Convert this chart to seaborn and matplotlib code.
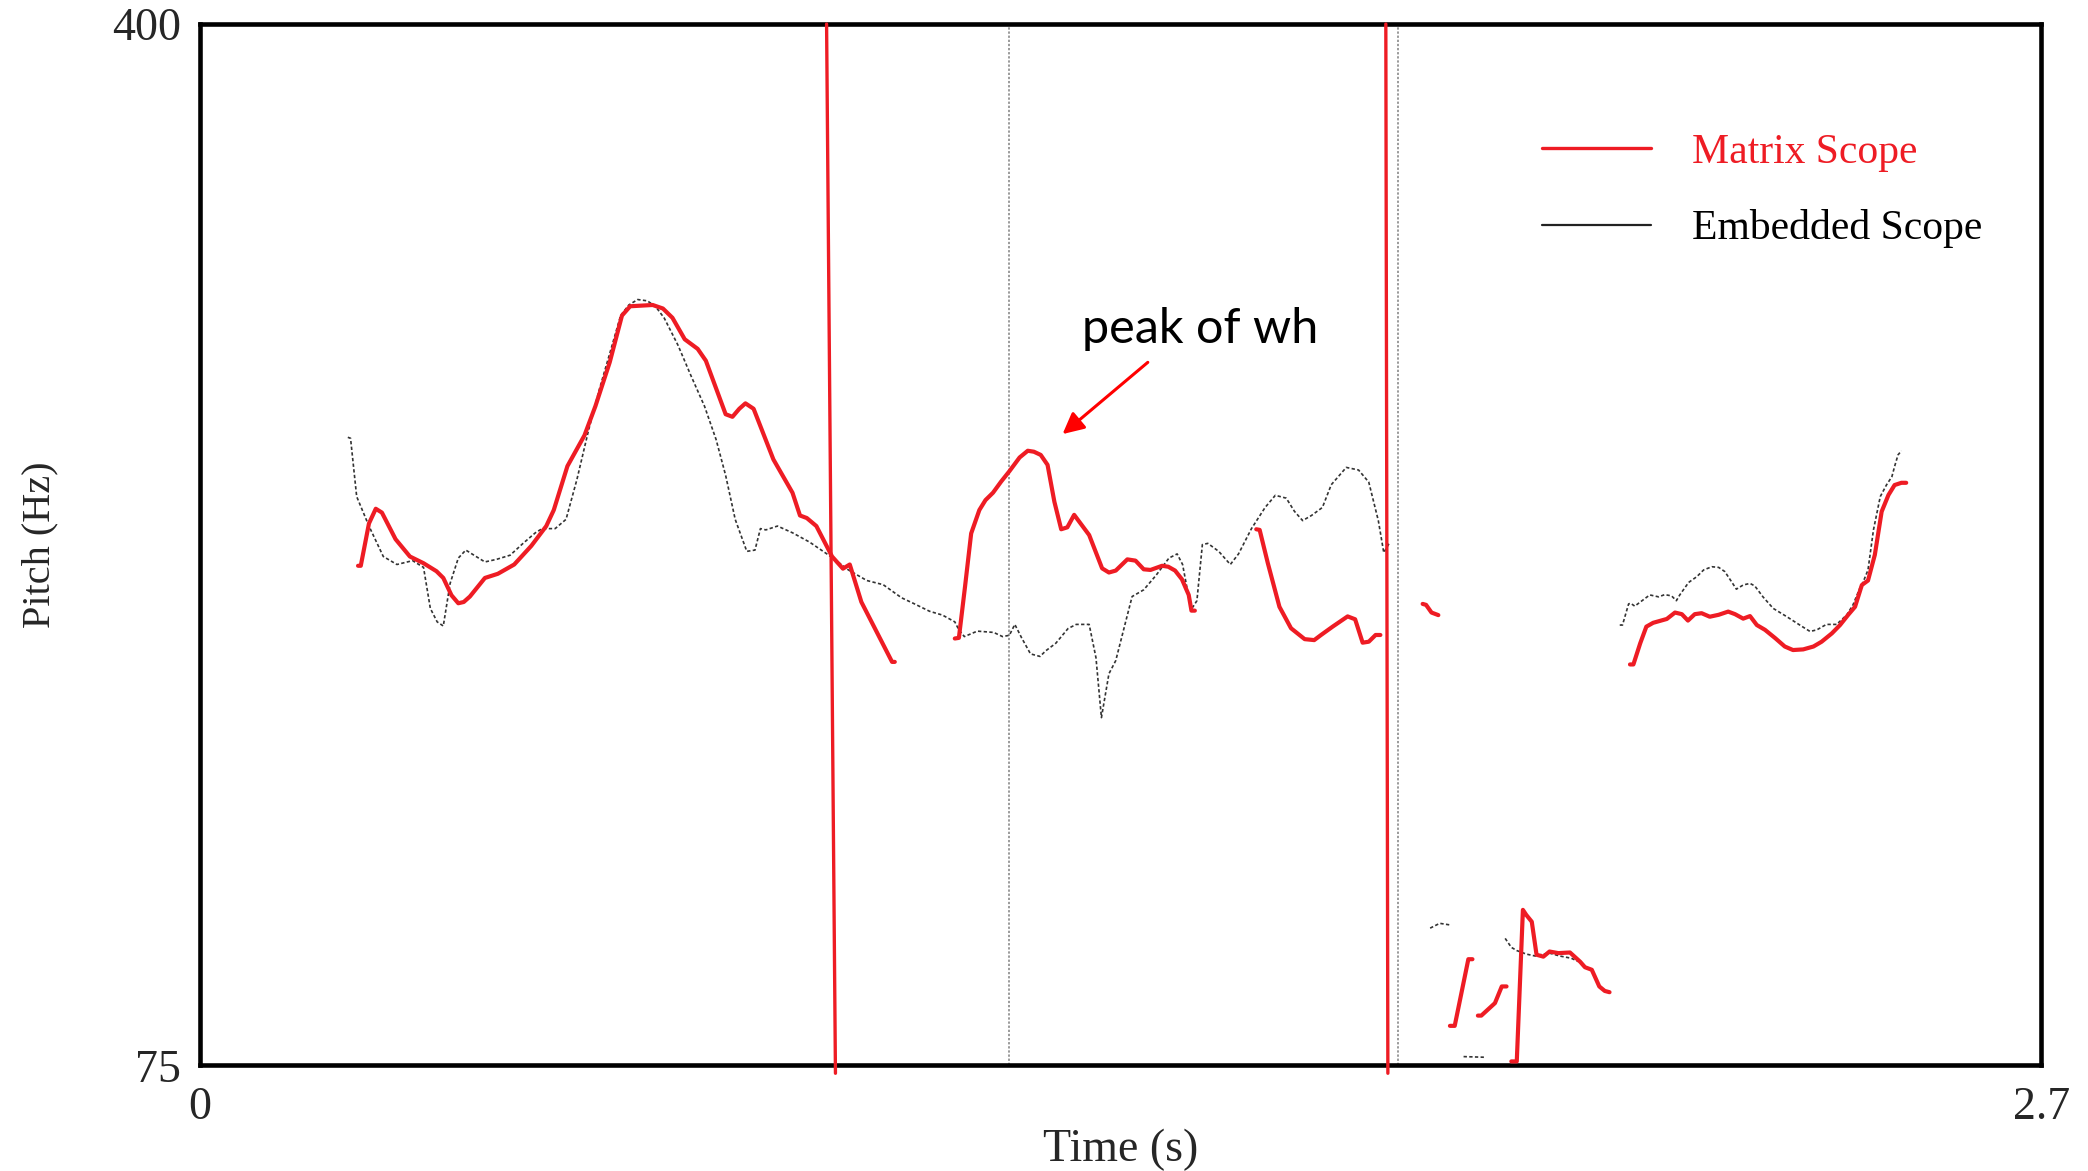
import matplotlib
matplotlib.use("Agg")
import matplotlib.pyplot as plt
from matplotlib.lines import Line2D
import seaborn as sns
import pandas as pd

# ---------------- data (time in s, pitch in Hz) ----------------
matrix_time = [
    [0.232, 0.236, 0.248, 0.258, 0.267, 0.287, 0.308, 0.328, 0.347, 0.357,
     0.369, 0.379, 0.387, 0.396, 0.418, 0.437, 0.461, 0.486, 0.508, 0.519,
     0.539, 0.564, 0.580, 0.601, 0.619, 0.631, 0.664, 0.679, 0.693, 0.711,
     0.730, 0.742, 0.771, 0.781, 0.791, 0.800, 0.812, 0.841, 0.869, 0.880,
     0.890, 0.904, 0.927, 0.943, 0.953, 0.970, 1.015, 1.019],
    [1.107, 1.113, 1.122, 1.131, 1.143, 1.152, 1.163, 1.175, 1.187, 1.202,
     1.214, 1.223, 1.233, 1.243, 1.253, 1.263, 1.272, 1.282, 1.304, 1.323,
     1.333, 1.343, 1.360, 1.372, 1.384, 1.394, 1.411, 1.420, 1.430, 1.440,
     1.450, 1.454, 1.459],
    [1.549, 1.554, 1.566, 1.583, 1.600, 1.620, 1.634, 1.644, 1.661, 1.683,
     1.694, 1.705, 1.714, 1.724, 1.731],
    [1.793, 1.798, 1.806, 1.816],
    [1.833, 1.840, 1.860, 1.866],
    [1.874, 1.879, 1.899, 1.909, 1.916],
    [1.923, 1.931, 1.940, 1.945, 1.953, 1.960, 1.970, 1.979, 1.992, 2.009,
     2.024, 2.031, 2.041, 2.052, 2.060, 2.067],
    [2.097, 2.102, 2.112, 2.121, 2.131, 2.141, 2.151, 2.163, 2.173, 2.182,
     2.192, 2.202, 2.214, 2.227, 2.241, 2.251, 2.263, 2.273, 2.283, 2.295,
     2.310, 2.324, 2.336, 2.351, 2.366, 2.378, 2.393, 2.405, 2.417, 2.427,
     2.437, 2.446, 2.456, 2.466, 2.476, 2.485, 2.495, 2.502],
]
matrix_pitch = [
    [230.9, 230.9, 244.1, 248.7, 247.5, 239.2, 233.8, 231.7, 229.2, 227.1,
     221.7, 219.2, 219.6, 221.3, 227.1, 228.4, 231.3, 237.1, 243.3, 248.3,
     262.0, 271.6, 280.7, 294.4, 309.0, 311.9, 312.3, 311.2, 308.3, 301.6,
     298.6, 294.9, 278.2, 277.4, 279.9, 281.6, 279.9, 264.1, 253.7, 246.6,
     245.8, 243.3, 233.8, 230.0, 231.3, 219.6, 200.9, 200.9],
    [208.2, 208.4, 224.4, 241.0, 248.3, 251.4, 253.7, 257.2, 260.4, 264.7,
     266.8, 266.5, 265.5, 262.4, 250.9, 242.3, 242.9, 246.8, 240.5, 230.1,
     228.8, 229.4, 232.9, 232.5, 229.8, 229.6, 230.9, 230.6, 229.4, 226.7,
     221.8, 216.9, 216.9],
    [242.3, 242.1, 231.7, 218.1, 211.4, 208.0, 207.7, 209.3, 211.9, 215.1,
     214.2, 206.9, 207.2, 209.3, 209.3],
    [219.0, 218.7, 216.3, 215.5],
    [87.3, 87.3, 108.1, 108.1],
    [90.5, 90.5, 94.4, 99.6, 99.6],
    [76.2, 76.2, 123.5, 121.9, 119.8, 109.5, 108.9, 110.5, 110.0, 110.2,
     107.3, 105.6, 104.8, 99.6, 98.2, 97.8],
    [200.1, 200.1, 206.7, 211.9, 213.1, 213.7, 214.3, 216.3, 215.8, 213.8,
     215.8, 216.1, 215.0, 215.6, 216.6, 215.8, 214.4, 215.2, 212.4, 210.9,
     208.3, 205.7, 204.6, 204.8, 205.7, 207.2, 209.8, 212.4, 215.6, 218.1,
     224.9, 226.3, 234.3, 247.8, 253.0, 256.1, 256.8, 256.8],
]

embedded_time = [
    [0.217, 0.221, 0.230, 0.248, 0.269, 0.289, 0.312, 0.328, 0.338, 0.348,
     0.357, 0.367, 0.379, 0.390, 0.402, 0.418, 0.435, 0.455, 0.474, 0.492,
     0.502, 0.521, 0.537, 0.553, 0.570, 0.586, 0.603, 0.617, 0.629, 0.642,
     0.656, 0.668, 0.681, 0.701, 0.720, 0.740, 0.757, 0.771, 0.785, 0.802,
     0.814, 0.822, 0.830, 0.847, 0.869, 0.894, 0.925, 0.951, 0.978, 1.002,
     1.029, 1.046, 1.070, 1.089, 1.107, 1.113, 1.121, 1.140, 1.164, 1.177,
     1.187, 1.195, 1.205, 1.218, 1.232, 1.240, 1.255, 1.273, 1.285, 1.304,
     1.314, 1.322, 1.333, 1.343, 1.357, 1.367, 1.384, 1.402, 1.421, 1.433,
     1.441, 1.451, 1.456, 1.462, 1.470, 1.478, 1.494, 1.511, 1.523, 1.542,
     1.562, 1.577, 1.593, 1.605, 1.617, 1.630, 1.646, 1.659, 1.681, 1.699,
     1.714, 1.728, 1.736, 1.745],
    [1.804, 1.818, 1.833],
    [1.853, 1.884],
    [1.914, 1.923, 1.931, 1.945, 1.958, 1.970, 1.979, 1.994, 2.011, 2.021],
    [2.082, 2.086, 2.095, 2.098, 2.104, 2.126, 2.139, 2.148, 2.158, 2.165,
     2.170, 2.183, 2.195, 2.205, 2.217, 2.227, 2.236, 2.246, 2.253, 2.263,
     2.273, 2.280, 2.292, 2.307, 2.327, 2.346, 2.361, 2.371, 2.385, 2.400,
     2.415, 2.424, 2.434, 2.439, 2.446, 2.454, 2.464, 2.473, 2.481, 2.485,
     2.490, 2.495],
]
embedded_pitch = [
    [271.0, 270.7, 252.5, 243.3, 233.8, 231.3, 232.5, 230.4, 217.6, 213.4,
     212.1, 225.4, 233.3, 235.8, 234.2, 232.1, 232.9, 234.2, 237.9, 241.2,
     242.5, 242.5, 245.4, 257.9, 273.2, 286.1, 298.6, 309.0, 312.3, 314.0,
     313.6, 311.9, 308.2, 299.8, 290.3, 280.7, 270.3, 259.1, 245.4, 235.4,
     235.8, 242.5, 242.1, 243.3, 241.2, 238.3, 233.8, 229.6, 226.3, 225.0,
     220.9, 219.2, 216.7, 215.5, 213.4, 210.9, 208.8, 210.5, 210.1, 208.8,
     209.2, 212.6, 208.4, 203.4, 202.6, 204.3, 206.7, 211.3, 212.6, 212.6,
     202.2, 183.5, 197.2, 201.3, 213.0, 221.3, 223.4, 227.9, 233.3, 234.6,
     231.3, 220.0, 218.0, 220.0, 237.5, 237.9, 235.4, 231.3, 234.6, 242.5,
     249.1, 252.9, 252.0, 247.9, 245.0, 246.6, 249.1, 256.2, 261.6, 260.8,
     257.0, 245.0, 235.0, 238.3],
    [117.8, 119.3, 118.8],
    [77.7, 77.5],
    [114.6, 111.8, 110.8, 109.7, 109.1, 109.7, 110.0, 109.1, 108.4, 107.4],
    [212.4, 212.4, 219.0, 219.2, 218.3, 221.8, 221.2, 221.9, 221.5, 220.0,
     221.8, 225.7, 227.5, 229.6, 230.6, 230.4, 229.1, 225.9, 223.6, 224.9,
     225.4, 224.6, 221.2, 217.6, 215.0, 212.4, 210.4, 210.9, 212.6, 212.6,
     215.6, 218.7, 223.9, 225.9, 229.6, 242.1, 252.5, 256.1, 258.7, 261.9,
     265.5, 266.8],
]

# octave jumps of the matrix track (run off the pitch range)
jump_time = [[0.919, 0.932], [1.739, 1.742]]
jump_pitch = [[400.0, 72.5], [400.0, 72.5]]

# grey dotted boundaries
boundary_time = [1.187, 1.757]

legend_labels = ["Matrix Scope", "Embedded Scope"]
legend_colors = ["#ee1c24", "black"]
annot_text = "peak of wh"


def to_frame(times, pitches):
    rows = []
    for i, (ts, ps) in enumerate(zip(times, pitches)):
        for t, p in zip(ts, ps):
            rows.append({"seg": i, "time": t, "pitch": p})
    return pd.DataFrame(rows)


df_matrix = to_frame(matrix_time, matrix_pitch)
df_embedded = to_frame(embedded_time, embedded_pitch)
df_jump = to_frame(jump_time, jump_pitch)

# ---------------- plot ----------------
sns.set_style("white")
plt.rcParams["font.family"] = ["Liberation Serif", "DejaVu Serif"]

fig = plt.figure(figsize=(20.88, 11.71), dpi=100)
ax = fig.add_axes([0.0957, 0.0903, 0.8819, 0.8892])

for bt in boundary_time:
    ax.axvline(bt, color="#808080", lw=1.1, ls=(0, (1.5, 1.2)), zorder=1)

sns.lineplot(data=df_embedded, x="time", y="pitch", units="seg", estimator=None,
             sort=False, color="#333333", lw=1.2, linestyle=(0, (2, 1.4)),
             ax=ax, legend=False, zorder=2)
sns.lineplot(data=df_matrix, x="time", y="pitch", units="seg", estimator=None,
             sort=False, color=legend_colors[0], lw=3.0, ax=ax, legend=False,
             zorder=3)
sns.lineplot(data=df_jump, x="time", y="pitch", units="seg", estimator=None,
             sort=False, color=legend_colors[0], lw=2.4, ax=ax, legend=False,
             zorder=3, clip_on=False)

ax.set_xlim(0, 2.7)
ax.set_ylim(75, 400)
ax.set_xticks([0, 2.7])
ax.set_xticklabels(["0", "2.7"])
ax.set_yticks([75, 400])
ax.set_yticklabels(["75", "400"])
ax.tick_params(axis="both", direction="out", labelsize=33, width=2.2,
               color="black", pad=4)
ax.tick_params(axis="y", length=9.5)
ax.tick_params(axis="x", length=8.5, pad=7)

for side in ["left", "right", "top", "bottom"]:
    ax.spines[side].set_visible(True)
    ax.spines[side].set_color("black")
    ax.spines[side].set_linewidth(3.3)

ax.set_xlabel("Time (s)", fontsize=33)
ax.set_ylabel("Pitch (Hz)", fontsize=29)
ax.xaxis.set_label_coords(0.5, -0.061)
ax.yaxis.set_label_coords(-0.077, 0.5)

# annotation
ax.annotate("", xy=(1.265, 272.0), xytext=(1.390, 294.4),
            arrowprops=dict(arrowstyle="-|>", color="red", lw=2.2,
                            mutation_scale=32, shrinkA=0, shrinkB=0))
ax.text(1.466, 304.8, annot_text, fontsize=35, family=["Lato", "DejaVu Sans"],
        ha="center", va="center", color="black")

# legend
handles = [
    Line2D([0], [0], color=legend_colors[0], lw=2.4),
    Line2D([0], [0], color="#222222", lw=1.6),
]
leg = ax.legend(handles, legend_labels, loc="upper left",
                bbox_to_anchor=(0.729, 0.895), frameon=False, fontsize=30,
                handlelength=2.6, handletextpad=1.0, labelspacing=0.9,
                borderpad=0, borderaxespad=0, labelcolor=legend_colors)

fig.savefig("out.png", dpi=100)
